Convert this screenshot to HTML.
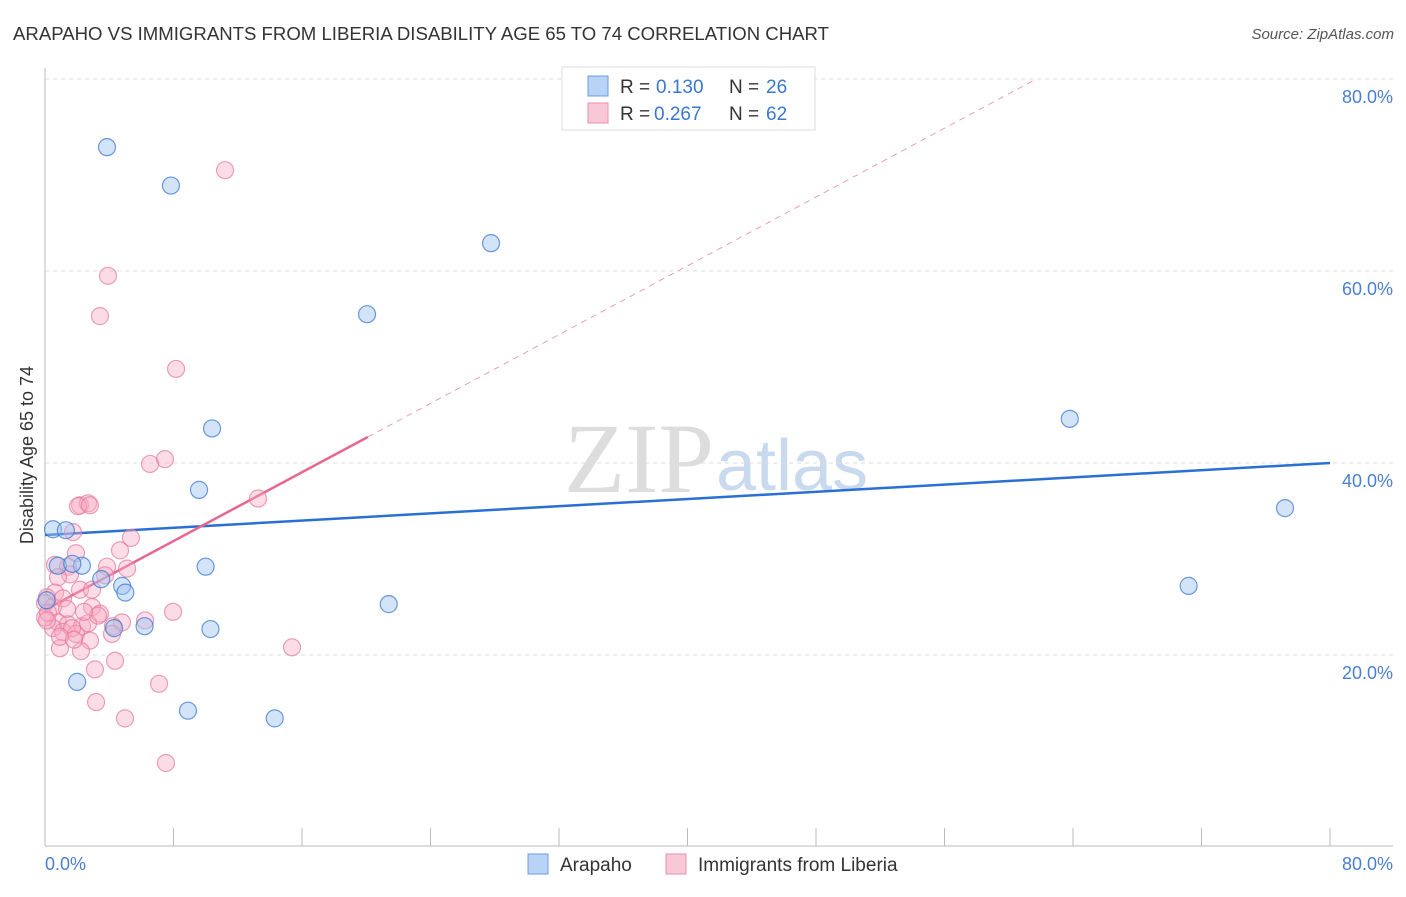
<!DOCTYPE html>
<html><head><meta charset="utf-8"><style>
body{margin:0;background:#fff;font-family:"Liberation Sans",sans-serif;}
</style></head><body>
<svg width="1406" height="892" xmlns="http://www.w3.org/2000/svg" id="svg" font-family="Liberation Sans, sans-serif">
<text x="13" y="40" font-size="18" fill="#333" textLength="816" lengthAdjust="spacingAndGlyphs">ARAPAHO VS IMMIGRANTS FROM LIBERIA DISABILITY AGE 65 TO 74 CORRELATION CHART</text>
<text x="1394" y="39" font-size="15" fill="#555" font-style="italic" text-anchor="end">Source: ZipAtlas.com</text>
<text x="714" y="492" font-size="100" fill="#ddd" font-family="Liberation Serif, serif" text-anchor="end">ZIP</text>
<text x="716" y="490" font-size="72" fill="#c9d9ee">atlas</text>
<g id="grid"></g><g id="axes"></g><g id="lines"></g><g id="pts"></g>
<text transform="translate(33,455) rotate(-90)" font-size="18" fill="#333" text-anchor="middle">Disability Age 65 to 74</text>
<text x="45" y="870" font-size="18" fill="#4a7fd0">0.0%</text>
<text x="1393" y="870" font-size="18" fill="#4a7fd0" text-anchor="end">80.0%</text>
<g>
<rect x="562" y="67" width="253" height="63" fill="#fff" stroke="#ddd"/>
<rect x="588" y="76" width="20" height="20" fill="#b8d3f5" stroke="#6a9be0"/>
<rect x="588" y="103" width="20" height="20" fill="#f9c8d6" stroke="#ea8fae"/>
<text x="620" y="93" font-size="19" fill="#333">R =</text>
<text x="656" y="93" font-size="19" fill="#3a78d0">0.130</text>
<text x="729" y="93" font-size="19" fill="#333">N =</text>
<text x="766" y="93" font-size="19" fill="#3a78d0">26</text>
<text x="620" y="120" font-size="19" fill="#333">R =</text>
<text x="654" y="120" font-size="19" fill="#3a78d0">0.267</text>
<text x="729" y="120" font-size="19" fill="#333">N =</text>
<text x="766" y="120" font-size="19" fill="#3a78d0">62</text>
</g>
<g>
<rect x="528" y="854" width="20" height="20" fill="#b8d3f5" stroke="#6a9be0"/>
<text x="560" y="871" font-size="19" fill="#333">Arapaho</text>
<rect x="666" y="854" width="20" height="20" fill="#f9c8d6" stroke="#ea8fae"/>
<text x="698" y="871" font-size="19" fill="#333">Immigrants from Liberia</text>
</g>
</svg>
<script>
const yTicks=[20,40,60,80];
const xTicks=[0,8,16,24,32,40,48,56,64,72,80];
const blueX=[3.86,7.84,27.77,20.05,10.40,63.8,9.59,77.2,0.5,1.3,0.8,2.3,1.7,10.0,3.5,4.8,5.0,71.2,21.4,4.3,6.2,10.3,2.0,8.9,14.3,0.1];
const blueY=[72.9,68.9,62.9,55.5,43.6,44.6,37.2,35.3,33.1,33.0,29.3,29.3,29.5,29.2,27.9,27.2,26.5,27.2,25.3,22.8,23.0,22.7,17.2,14.2,13.4,25.7];
const pinkX=[11.21,3.92,3.42,8.16,7.47,6.54,13.26,2.18,2.68,2.05,2.80,1.74,5.35,4.67,1.93,0.62,1.43,1.56,0.81,3.86,5.11,3.74,2.18,2.93,0.62,0.12,0,0.50,2.93,3.42,6.23,7.97,4.79,4.23,0.81,1.43,0.50,2.30,1.12,1.93,2.80,0.93,2.24,4.36,3.11,15.38,7.10,3.18,4.98,7.53,0,0.19,1.12,2.68,1.68,3.30,4.17,0.93,0.12,2.43,1.81,1.37];
const pinkY=[70.5,59.5,55.3,49.8,40.4,39.9,36.3,35.6,35.8,35.5,35.6,32.8,32.2,30.9,30.6,29.4,29.2,28.4,28.1,29.2,29.0,28.3,26.8,26.8,26.5,26.0,25.4,25.0,25.0,24.3,23.6,24.5,23.4,23.0,23.4,23.2,22.8,23.0,22.4,22.2,21.5,20.7,20.4,19.4,18.5,20.8,17.0,15.1,13.4,8.75,23.9,24.4,25.9,23.3,22.8,24.1,22.2,21.9,23.6,24.5,21.6,24.8];
const blueTrend=[32.5,40.0]; // at x=0 and x=80
const pinkTrend=[24.7,0.896]; // intercept, slope
const X=v=>45+v*1285/80, Y=v=>847-v*9.6;
const NS='http://www.w3.org/2000/svg';
function mk(p,t,a){const e=document.createElementNS(NS,t);for(const k in a)e.setAttribute(k,a[k]);document.getElementById(p).appendChild(e);return e;}
yTicks.forEach(t=>{
 const l=mk('grid','line',{x1:45,x2:1393,y1:Y(t),y2:Y(t),stroke:'#ddd','stroke-dasharray':'4,4'});
 
 
 const tx=mk('grid','text',{x:1393,y:Y(t)+24,'font-size':18,fill:'#4a7fd0','text-anchor':'end'});tx.textContent=t+'.0%';
 
 
});
mk('axes','line',{x1:45,x2:45,y1:68,y2:846,stroke:'#bbb'});
mk('axes','line',{x1:45,x2:1393,y1:846,y2:846,stroke:'#bbb'});
xTicks.forEach(t=>{const l=mk('axes','line',{x1:X(t),x2:X(t),y1:828,y2:846,stroke:'#bbb'});
 
 });
let b=mk('lines','line',{x1:X(0),y1:Y(blueTrend[0]),x2:X(80),y2:Y(blueTrend[1]),stroke:'#2a6fd4','stroke-width':2.5});


const xEnd=(80-pinkTrend[0])/pinkTrend[1];
let pd=mk('lines','line',{x1:X(20.1),y1:Y(pinkTrend[0]+pinkTrend[1]*20.1),x2:X(xEnd),y2:Y(80),stroke:'#eaa0b8','stroke-width':1,'stroke-dasharray':'6,5'});


let ps=mk('lines','line',{x1:X(0),y1:Y(pinkTrend[0]),x2:X(20.1),y2:Y(pinkTrend[0]+pinkTrend[1]*20.1),stroke:'#e56890','stroke-width':2.5});


pinkX.forEach((x,i)=>{const c=mk('pts','circle',{cx:X(x),cy:Y(pinkY[i]),r:8.5,fill:'rgba(247,170,195,0.4)',stroke:'rgba(230,120,155,0.7)','stroke-width':1.2});
 
 });
blueX.forEach((x,i)=>{const c=mk('pts','circle',{cx:X(x),cy:Y(blueY[i]),r:8.5,fill:'rgba(160,195,240,0.45)',stroke:'rgba(60,120,210,0.75)','stroke-width':1.2});
 
 });
</script>
</body></html>
